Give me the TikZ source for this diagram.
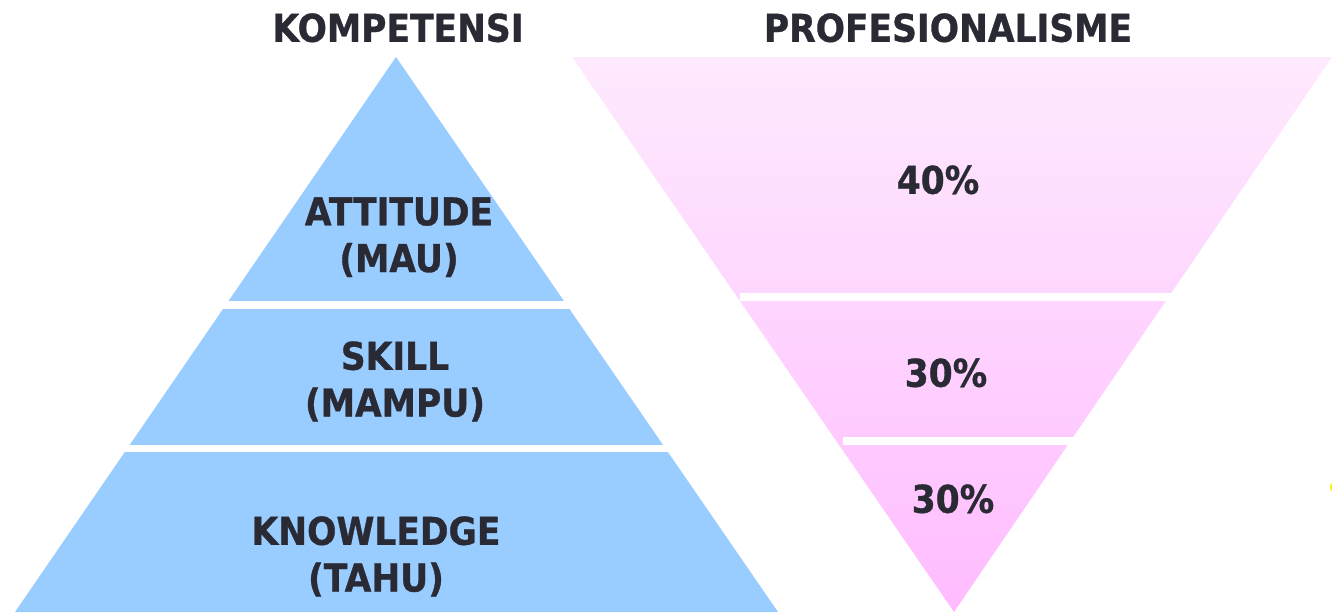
\documentclass[tikz,border=0pt]{standalone}
\usepackage{fontspec}
\setmainfont{DejaVu Sans}[FakeStretch=0.9, BoldFeatures={FakeBold=0.8}]
\usepackage{xcolor}
\usetikzlibrary{calc,positioning}
\definecolor{pyrblue}{RGB}{153,204,255}
\definecolor{funtop}{RGB}{254,234,254}
\definecolor{funbot}{RGB}{255,188,255}
\definecolor{txtdark}{RGB}{42,42,53}
\tikzset{%
	title/.style = {font=\bfseries\fontsize{21.8}{26.6}\selectfont, text=txtdark, inner sep=0pt, anchor=north},
	label/.style = {font=\bfseries\fontsize{21.8}{26.6}\selectfont, text=txtdark, inner sep=0pt, anchor=north, align=center},
	gap/.style   = {fill=white, draw=none},
}
\begin{document}
\begin{tikzpicture}[x=0.02cm,y=-0.02cm]
	\useasboundingbox (0,0) rectangle (1332,612);
	\fill[pyrblue] (396,57) -- (778,612) -- (15,612) -- cycle;  % pyramid
	\shade[top color=funtop, bottom color=funbot] (572,57) -- (1332,57) -- (954,612) -- cycle;  % funnel
	\fill[gap] (215,301) rectangle (580,309);
	\fill[gap] (115,445) rectangle (680,452);
	\fill[gap] (740,293) rectangle (1172,301);
	\fill[gap] (843,437) rectangle (1077,445);
	\fill[yellow] (1336,487) circle (6);
	\node[title] (komp) at (398,13) {KOMPETENSI};
	\node[title] (prof) at (948,13) {PROFESIONALISME};
	\node[label] (attitude) at (399,197) {ATTITUDE\\(MAU)};
	\node[label] (skill) at (395,341) {SKILL\\(MAMPU)};
	\node[label] (knowledge) at (376,516) {KNOWLEDGE\\(TAHU)};
	\node[label] (p40) at (938,165) {40\%};
	\node[label] (p30a) at (946,358) {30\%};
	\node[label] (p30b) at (953,484) {30\%};
\end{tikzpicture}
\end{document}
